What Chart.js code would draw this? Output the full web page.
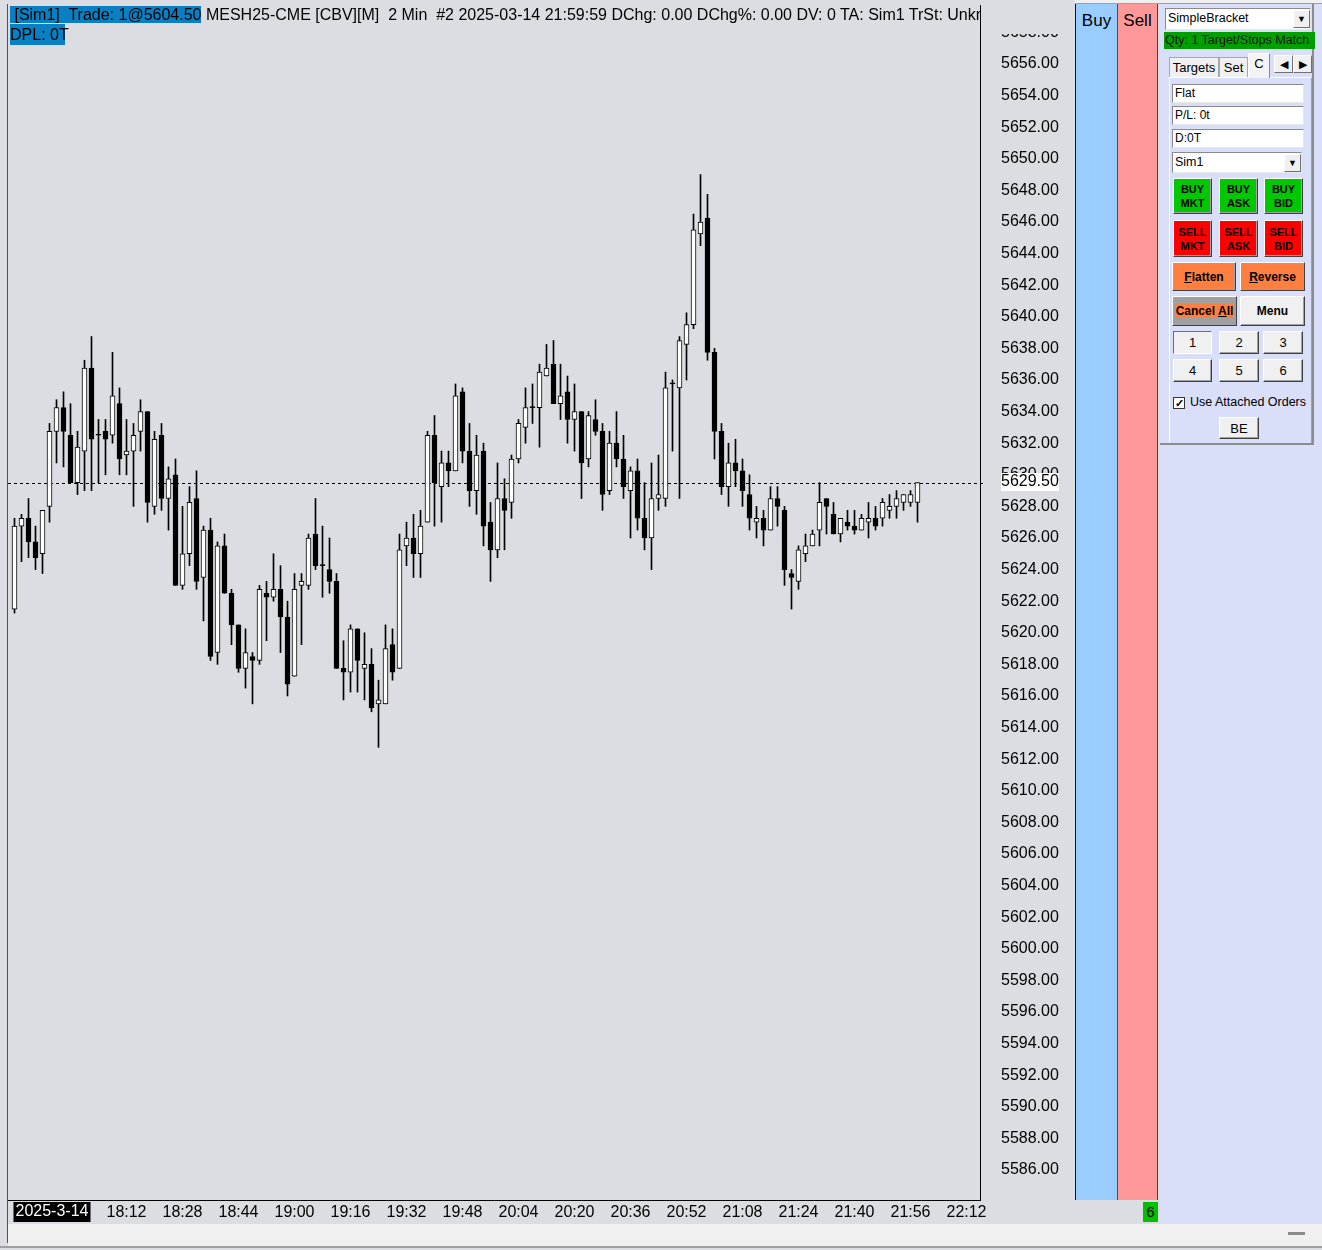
<!DOCTYPE html>
<html>
<head>
<meta charset="utf-8">
<script src="https://cdn.jsdelivr.net/npm/chart.js@4.4.1/dist/chart.umd.min.js"></script>
<style>
  body { margin: 0; width: 1322px; height: 1250px; background: #dcdde2; position: relative; overflow: hidden;
         font-family: "Liberation Sans", Arial, sans-serif; }
  .a { position: absolute; box-sizing: border-box; }
  .hdr { font-size: 16px; line-height: 19px; white-space: pre; color: #000; }
  .hl { background: #0a80c2; }
  .col { font-size: 17px; text-align: center; padding-top: 7px; }
  .fld { background: #fff; border: 1px solid; border-color: #8a8a8a #e8e8e8 #e8e8e8 #8a8a8a; font-size: 12px;
         line-height: 17px; padding-left: 2px; }
  .btn { border: 1px solid; border-color: #fff #404040 #404040 #fff; box-shadow: inset -1px -1px #a0a0a0;
         display: flex; align-items: center; justify-content: center; text-align: center; color: #000; }
  .b2 { font-weight: bold; font-size: 11px; line-height: 14px; }
  .gray { background: #f0f0f0; }
  .num { font-size: 13px; }
  .dd { background: #f0f0f0; border: 1px solid; border-color: #fff #707070 #707070 #fff; font-size: 9px;
        display: flex; align-items: center; justify-content: center; }
  .tab { background: #f0f0f0; border: 1px solid #a8a8a8; border-bottom: none; font-size: 13px; text-align: center;
         line-height: 19px; }
</style>
</head>
<body>
<div class="a" style="left:0;top:0;width:1322px;height:3px;background:#f0f0f0"></div>
<div class="a" style="left:0;top:3px;width:1322px;height:1px;background:#a0a0a0"></div>

<canvas id="chart" class="a" width="1075" height="1225" style="left:0;top:0"></canvas>

<!-- hide the clipped top price label behind the header strip -->
<div class="a" style="left:981px;top:4px;width:94px;height:30px;background:#dcdde2"></div>

<div class="a hdr" style="left:10px;top:5px;width:970px;height:19px;overflow:hidden"><span class="hl"> [Sim1]  Trade: 1@5604.50</span> MESH25-CME [CBV][M]  2 Min  #2 2025-03-14 21:59:59 DChg: 0.00 DChg%: 0.00 DV: 0 TA: Sim1 TrSt: Unknown</div>
<div class="a hdr" style="left:10px;top:24px;height:21px;line-height:21px"><span class="hl" style="display:inline-block;width:55px">DPL: 0T</span></div>

<div class="a" style="left:7px;top:4px;width:1px;height:1239px;background:#505050"></div>

<!-- Buy / Sell columns -->
<div class="a col" style="left:1075px;top:4px;width:42px;height:1196px;background:#99ccff;border-left:1px solid #0000c0">Buy</div>
<div class="a col" style="left:1117px;top:4px;width:41px;height:1196px;background:#ff9999;border-left:1px solid #ff0000;border-right:1px solid #e00000">Sell</div>

<!-- bottom strip -->
<div class="a" style="left:8px;top:1224px;width:1314px;height:22px;background:#f0f0f0"></div>
<div class="a" style="left:0;top:1246px;width:1322px;height:2px;background:#a0a0a0"></div>
<div class="a" style="left:1288px;top:1232px;width:17px;height:3px;background:#8c8c8c"></div>
<div class="a" style="left:1143px;top:1202px;width:15px;height:20px;background:#00c000;font-size:15px;line-height:20px;text-align:center">6</div>

<!-- trade window panel -->
<div class="a" style="left:1160px;top:4px;width:162px;height:1220px;background:#d9dff8"></div>
<div class="a" style="left:1160px;top:3px;width:154px;height:442px;border-top:1px solid #a0a0a0;border-right:2px solid #8c8c8c;border-bottom:2px solid #8c8c8c"></div>

<div class="a fld" style="left:1165px;top:8px;width:146px;height:22px;line-height:19px;font-size:12.5px">SimpleBracket</div>
<div class="a dd" style="left:1293px;top:10px;width:17px;height:18px">&#9660;</div>
<div class="a" style="left:1164px;top:32px;width:151px;height:17px;background:#009f00;font-size:12.5px;line-height:17px;padding-left:1px;color:#111">Qty: 1 Target/Stops Match</div>

<div class="a" style="left:1169px;top:77px;width:143px;height:366px;border-left:1px solid #fff;border-top:1px solid #fff;border-right:1px solid #a0a0a0"></div>
<div class="a tab" style="left:1169px;top:57px;width:50px;height:20px">Targets</div>
<div class="a tab" style="left:1219px;top:57px;width:29px;height:20px">Set</div>
<div class="a tab" style="left:1248px;top:53px;width:22px;height:25px;background:#f4f4f4;border-color:#fff #8a8a8a #8a8a8a #fff">C</div>
<div class="a dd" style="left:1274px;top:55px;width:19px;height:18px;font-size:11px">&#9664;</div>
<div class="a dd" style="left:1293px;top:55px;width:19px;height:18px;font-size:11px">&#9654;</div>

<div class="a fld" style="left:1172px;top:84px;width:132px;height:19px">Flat</div>
<div class="a fld" style="left:1172px;top:106px;width:132px;height:19px">P/L: 0t</div>
<div class="a fld" style="left:1172px;top:129px;width:132px;height:19px">D:0T</div>
<div class="a fld" style="left:1172px;top:152px;width:130px;height:21px;line-height:19px;font-size:12.5px">Sim1</div>
<div class="a dd" style="left:1284px;top:154px;width:17px;height:18px">&#9660;</div>

<div class="a btn b2" style="left:1173px;top:178px;width:39px;height:36px;background:#00c800">BUY<br>MKT</div>
<div class="a btn b2" style="left:1219px;top:178px;width:39px;height:36px;background:#00c800">BUY<br>ASK</div>
<div class="a btn b2" style="left:1264px;top:178px;width:39px;height:36px;background:#00c800">BUY<br>BID</div>
<div class="a btn b2" style="left:1173px;top:220px;width:39px;height:37px;background:#ff0000">SELL<br>MKT</div>
<div class="a btn b2" style="left:1219px;top:220px;width:39px;height:37px;background:#ff0000">SELL<br>ASK</div>
<div class="a btn b2" style="left:1264px;top:220px;width:39px;height:37px;background:#ff0000">SELL<br>BID</div>

<div class="a btn b2" style="left:1172px;top:262px;width:64px;height:29px;background:#ff7f40;font-size:12px"><span><u>F</u>latten</span></div>
<div class="a btn b2" style="left:1240px;top:262px;width:65px;height:29px;background:#ff7f40;font-size:12px"><span><u>R</u>everse</span></div>
<div class="a btn b2" style="left:1172px;top:296px;width:65px;height:30px;background:#a0a0a0;font-size:12px"><span style="background:#ff7f40;padding:0 1px">Cancel <u>A</u>ll</span></div>
<div class="a btn b2 gray" style="left:1240px;top:296px;width:65px;height:30px;font-size:12px">Menu</div>

<div class="a btn num gray" style="left:1173px;top:331px;width:39px;height:23px;border-color:#707070 #fff #fff #707070;box-shadow:none">1</div>
<div class="a btn num gray" style="left:1219px;top:331px;width:40px;height:23px">2</div>
<div class="a btn num gray" style="left:1263px;top:331px;width:40px;height:23px">3</div>
<div class="a btn num gray" style="left:1173px;top:359px;width:39px;height:23px">4</div>
<div class="a btn num gray" style="left:1219px;top:359px;width:40px;height:23px">5</div>
<div class="a btn num gray" style="left:1263px;top:359px;width:40px;height:23px">6</div>

<div class="a" style="left:1173px;top:397px;width:12px;height:12px;background:#fff;border:1px solid #333;font-size:11px;line-height:10px;text-align:center;font-weight:bold">&#10003;</div>
<div class="a" style="left:1190px;top:395px;font-size:12.5px;line-height:15px;white-space:nowrap">Use Attached Orders</div>
<div class="a btn num gray" style="left:1219px;top:417px;width:40px;height:22px">BE</div>

<script>
// 2 minute bars, first bar 17:40, last bar 21:58
const barOpen = [
  5621.5, 5626.75, 5627.25, 5625.75, 5625.0, 5628.0, 5632.75, 5634.25, 5632.5, 5629.5,
  5631.5, 5636.75, 5632.5, 5632.75, 5632.5, 5634.5, 5631.25, 5631.5, 5632.75, 5634.0,
  5628.0, 5632.5, 5628.5, 5630.0, 5623.0, 5625.0, 5628.5, 5623.5, 5626.5, 5618.75,
  5625.5, 5622.5, 5620.5, 5617.75, 5618.5, 5618.25, 5622.5, 5622.25, 5622.75, 5621.0,
  5617.25, 5623.0, 5623.0, 5626.25, 5624.25, 5624.0, 5623.25, 5617.75, 5617.5, 5620.25,
  5617.75, 5618.0, 5615.5, 5615.5, 5619.25, 5617.75, 5625.5, 5626.0, 5625.0, 5627.0,
  5632.5, 5629.25, 5630.75, 5630.25, 5635.25, 5631.5, 5629.0, 5631.5, 5627.0, 5625.25,
  5628.5, 5628.25, 5631.0, 5633.0, 5634.25, 5634.25, 5636.25, 5637.0, 5634.5, 5635.25,
  5633.5, 5634.0, 5631.0, 5633.5, 5632.75, 5629.0, 5632.0, 5631.0, 5629.0, 5630.25,
  5627.25, 5626.0, 5628.5, 5628.5, 5635.75, 5635.5, 5638.25, 5639.5, 5645.25, 5646.25,
  5637.75, 5632.75, 5629.25, 5630.75, 5630.25, 5628.75, 5627.0, 5627.25, 5626.5, 5628.5,
  5627.75, 5623.75, 5623.25, 5625.0, 5625.5, 5626.5, 5628.5, 5627.5, 5626.25, 5627.0,
  5626.75, 5626.5, 5627.0, 5627.25, 5627.25, 5627.75, 5628.0, 5628.25, 5628.25, 5628.25
];
const barHigh = [
  5627.25, 5627.5, 5628.5, 5626.75, 5627.75, 5633.25, 5634.75, 5635.25, 5634.5, 5632.75,
  5637.25, 5638.75, 5633.5, 5633.5, 5637.75, 5635.5, 5633.5, 5633.25, 5634.75, 5634.0,
  5632.75, 5633.25, 5630.5, 5631.0, 5628.0, 5629.25, 5630.25, 5626.75, 5627.25, 5625.75,
  5626.25, 5622.75, 5620.5, 5620.25, 5618.75, 5623.0, 5623.25, 5625.0, 5624.25, 5622.0,
  5623.75, 5623.75, 5626.25, 5628.5, 5626.75, 5626.0, 5623.75, 5619.5, 5620.5, 5620.25,
  5620.0, 5619.0, 5617.0, 5620.5, 5620.25, 5626.25, 5627.0, 5627.5, 5627.75, 5632.75,
  5633.75, 5631.5, 5631.5, 5635.75, 5635.5, 5633.25, 5632.5, 5632.0, 5628.25, 5630.75,
  5629.75, 5631.25, 5633.5, 5635.5, 5635.75, 5637.0, 5638.25, 5638.5, 5637.0, 5636.25,
  5635.75, 5634.0, 5634.0, 5634.75, 5633.25, 5632.75, 5634.0, 5632.5, 5630.5, 5631.0,
  5629.5, 5630.75, 5631.25, 5636.5, 5636.0, 5638.75, 5640.25, 5646.5, 5649.0, 5647.75,
  5638.0, 5633.25, 5632.0, 5632.25, 5631.0, 5630.0, 5628.0, 5627.75, 5629.25, 5629.25,
  5628.0, 5624.0, 5625.5, 5626.25, 5626.5, 5629.5, 5628.5, 5628.25, 5627.25, 5627.75,
  5627.75, 5627.5, 5628.25, 5628.0, 5628.5, 5628.75, 5629.0, 5628.75, 5629.0, 5629.5
];
const barLow = [
  5621.25, 5624.5, 5624.75, 5624.0, 5623.75, 5627.0, 5630.75, 5630.5, 5629.5, 5628.75,
  5629.0, 5629.0, 5629.5, 5630.0, 5632.0, 5630.0, 5630.0, 5628.0, 5631.5, 5627.0,
  5627.5, 5627.75, 5626.5, 5623.0, 5622.75, 5624.25, 5622.75, 5620.75, 5618.25, 5618.0,
  5622.5, 5619.25, 5617.5, 5616.5, 5615.5, 5618.0, 5619.5, 5622.0, 5618.75, 5616.0,
  5617.25, 5619.25, 5622.75, 5624.0, 5622.25, 5622.5, 5617.75, 5615.75, 5616.25, 5616.25,
  5615.75, 5615.0, 5612.75, 5615.5, 5617.0, 5617.75, 5624.25, 5623.5, 5623.5, 5627.0,
  5626.75, 5627.0, 5629.25, 5630.25, 5630.75, 5628.0, 5627.5, 5625.5, 5623.25, 5624.75,
  5625.25, 5627.25, 5630.75, 5632.0, 5633.25, 5631.75, 5636.25, 5634.5, 5633.5, 5632.0,
  5631.5, 5628.5, 5630.5, 5632.5, 5627.75, 5628.75, 5630.5, 5628.5, 5626.0, 5626.5,
  5625.25, 5624.0, 5627.75, 5628.0, 5631.5, 5628.5, 5636.0, 5639.25, 5644.5, 5637.25,
  5631.0, 5628.75, 5628.0, 5629.25, 5628.0, 5626.5, 5626.0, 5625.5, 5626.5, 5626.75,
  5623.0, 5621.5, 5622.75, 5624.5, 5625.5, 5625.5, 5626.25, 5626.25, 5625.75, 5626.5,
  5626.25, 5626.5, 5626.0, 5626.5, 5626.75, 5627.25, 5627.25, 5627.75, 5628.0, 5627.0
];
const barClose = [
  5626.75, 5627.25, 5625.75, 5624.75, 5627.75, 5632.75, 5634.25, 5632.75, 5629.5, 5631.75,
  5636.75, 5632.25, 5632.5, 5632.25, 5635.0, 5631.0, 5631.5, 5632.5, 5634.0, 5628.25,
  5632.25, 5628.5, 5629.75, 5623.0, 5625.0, 5628.25, 5623.25, 5626.5, 5618.5, 5625.5,
  5622.5, 5620.5, 5617.75, 5618.75, 5618.25, 5622.75, 5622.25, 5622.75, 5621.0, 5616.75,
  5622.75, 5623.25, 5626.0, 5624.25, 5624.25, 5623.25, 5617.75, 5617.5, 5620.25, 5618.25,
  5618.0, 5615.25, 5615.75, 5619.0, 5617.5, 5625.25, 5626.0, 5625.0, 5626.75, 5632.5,
  5629.5, 5630.75, 5630.25, 5635.0, 5631.5, 5629.0, 5631.25, 5626.75, 5625.25, 5628.5,
  5627.75, 5631.0, 5633.25, 5634.25, 5634.25, 5636.5, 5636.75, 5634.5, 5635.0, 5633.5,
  5634.0, 5630.75, 5633.75, 5632.75, 5628.75, 5632.0, 5631.0, 5629.25, 5630.25, 5627.25,
  5626.0, 5628.5, 5628.75, 5635.5, 5635.75, 5638.5, 5639.5, 5645.5, 5646.0, 5637.75,
  5632.75, 5629.25, 5630.75, 5630.25, 5629.0, 5627.25, 5627.25, 5626.5, 5628.5, 5628.0,
  5624.0, 5623.5, 5625.25, 5625.5, 5626.25, 5628.25, 5628.0, 5626.25, 5627.25, 5626.75,
  5626.5, 5627.25, 5627.25, 5626.75, 5628.25, 5628.0, 5628.5, 5628.75, 5628.75, 5629.5
];

// x axis: bar index of each time label
const timeTickIdx = [16, 24, 32, 40, 48, 56, 64, 72, 80, 88, 96, 104, 112, 120, 128, 136];
const timeTickText = ['18:12', '18:28', '18:44', '19:00', '19:16', '19:32', '19:48', '20:04',
  '20:20', '20:36', '20:52', '21:08', '21:24', '21:40', '21:56', '22:12'];
const sessionDate = '2025-3-14';
const priceTicks = [
  5586, 5588, 5590, 5592, 5594, 5596, 5598, 5600, 5602, 5604, 5606, 5608, 5610,
  5612, 5614, 5616, 5618, 5620, 5622, 5624, 5626, 5628, 5630, 5632, 5634, 5636,
  5638, 5640, 5642, 5644, 5646, 5648, 5650, 5652, 5654, 5656, 5658
];
const lastPrice = 5629.5;

const BG = '#dcdde2';

const bodies = barOpen.map((o, i) => ({ x: i, y: [o, barClose[i]] }));
const wicks = barLow.map((l, i) => ({ x: i, y: [l, barHigh[i]] }));
const bodyFill = barOpen.map((o, i) => (barClose[i] > o ? '#ffffff' : '#000000'));

const extras = {
  id: 'extras',
  beforeDraw(chart) {
    const c = chart.ctx;
    c.save();
    c.fillStyle = BG;
    c.fillRect(0, 0, chart.width, chart.height);
    c.restore();
  },
  beforeDatasetsDraw(chart) {
    const c = chart.ctx, a = chart.chartArea;
    const y = Math.round(chart.scales.y.getPixelForValue(lastPrice)) + 0.5;
    c.save();
    c.strokeStyle = '#000';
    c.lineWidth = 1;
    c.setLineDash([3, 3]);
    c.beginPath();
    c.moveTo(a.left, y);
    c.lineTo(a.right, y);
    c.stroke();
    c.restore();
  },
  afterDraw(chart) {
    const c = chart.ctx, a = chart.chartArea;
    const y = Math.round(chart.scales.y.getPixelForValue(lastPrice));
    c.save();
    // last price marker on the axis
    c.fillStyle = '#000';
    c.fillRect(a.right, y, 3, 1);
    c.fillStyle = '#ffffff';
    c.fillRect(1001, y - 10, 58, 18);
    c.fillStyle = '#000';
    c.font = '16px "Liberation Sans"';
    c.textBaseline = 'middle';
    c.textAlign = 'left';
    c.fillText(lastPrice.toFixed(2), 1001, y - 1);
    // session date label
    const x0 = chart.scales.x.getPixelForValue(0) - 1;
    c.fillStyle = '#000';
    c.fillRect(x0, a.bottom + 2, 77, 20);
    c.fillStyle = '#fff';
    c.fillText(sessionDate, x0 + 2, a.bottom + 12);
    c.restore();
  }
};

new Chart(document.getElementById('chart'), {
  type: 'bar',
  data: {
    datasets: [
      {
        data: bodies,
        backgroundColor: bodyFill,
        borderColor: '#000',
        borderWidth: 1,
        borderSkipped: false,
        barThickness: 5,
        minBarLength: 1,
        grouped: false,
        order: 0,
      },
      {
        data: wicks,
        backgroundColor: '#000',
        borderWidth: 0,
        barThickness: 1,
        grouped: false,
        order: 1,
      },
    ],
  },
  options: {
    responsive: false,
    animation: false,
    devicePixelRatio: 1,
    layout: { padding: { left: 8, top: 5, right: 0, bottom: 0 } },
    plugins: { legend: { display: false }, tooltip: { enabled: false } },
    scales: {
      x: {
        type: 'linear',
        min: -0.92857,
        max: 137.92857,
        offset: false,
        grid: { display: false, offset: false, drawTicks: false },
        border: { color: '#000' },
        afterBuildTicks: (s) => { s.ticks = timeTickIdx.map((v) => ({ value: v })); },
        afterFit: (s) => { s.height = 25; },
        ticks: {
          autoSkip: false,
          maxRotation: 0,
          padding: 3,
          color: '#000',
          font: { family: 'Liberation Sans', size: 16 },
          callback: (v, i) => timeTickText[i],
        },
      },
      y: {
        position: 'right',
        min: 5584.1,
        max: 5659.734,
        // tick marks are invisible; their length only pushes the labels right
        grid: { display: false, drawTicks: true, tickLength: 21 },
        border: { color: '#000' },
        afterBuildTicks: (s) => { s.ticks = priceTicks.map((v) => ({ value: v })); },
        afterFit: (s) => { s.width = 95; },
        ticks: {
          padding: 0,
          color: '#000',
          font: { family: 'Liberation Sans', size: 16, lineHeight: 0.5 },
          callback: (v) => Number(v).toFixed(2),
        },
      },
    },
  },
  plugins: [extras],
});
</script>
</body>
</html>
